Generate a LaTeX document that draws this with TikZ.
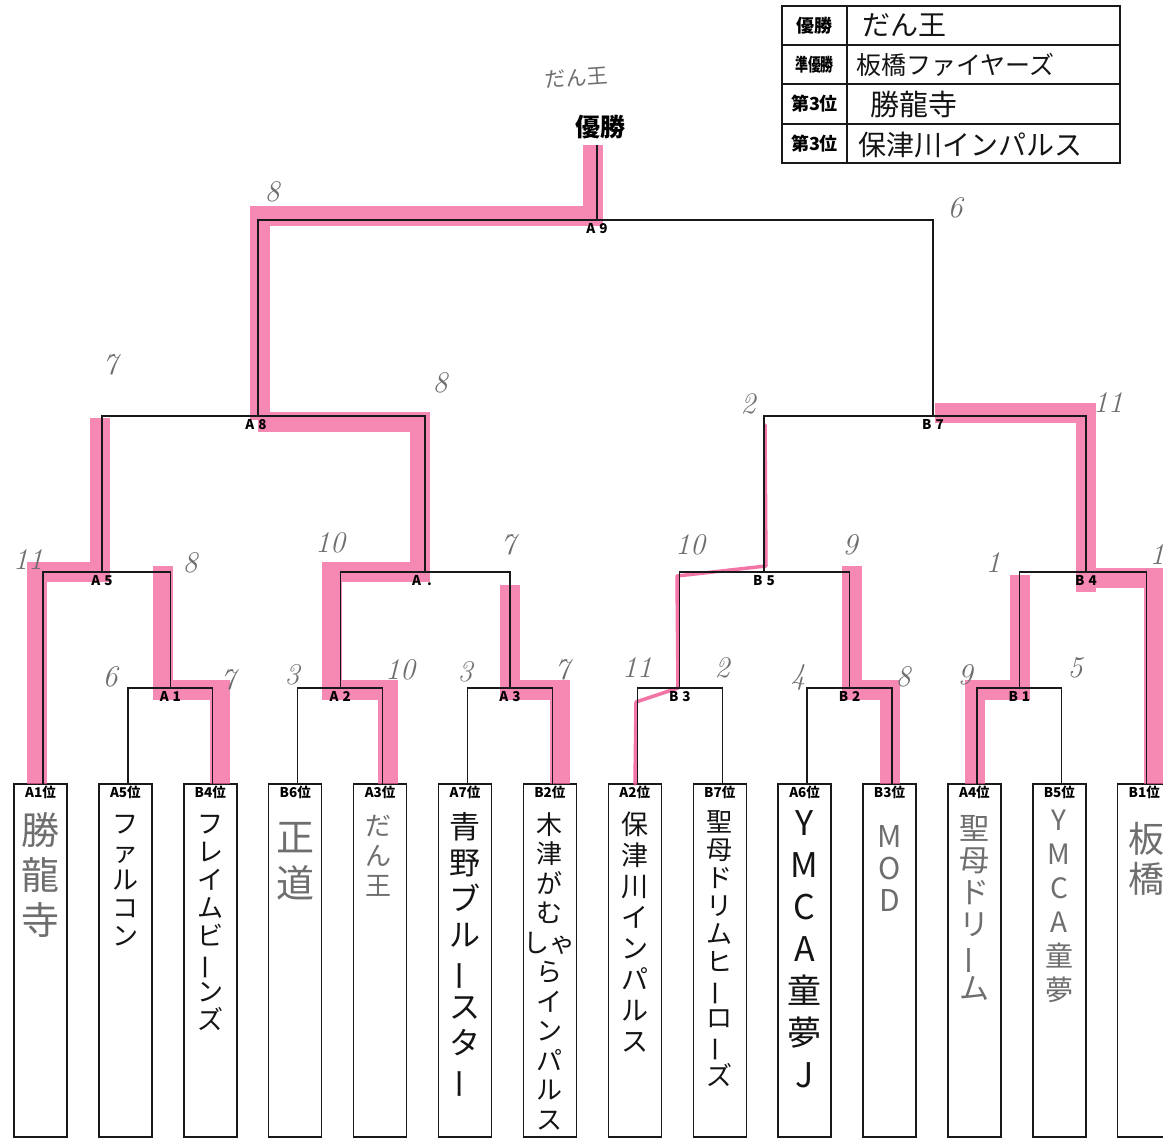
\documentclass[tikz,border=0pt]{standalone}
\usepackage{graphicx}
\usepackage{fontspec}
\newfontfamily\cjk{Noto Sans CJK JP}
\usetikzlibrary{calc}
\definecolor{hl}{RGB}{242,92,152}
\definecolor{pencil}{RGB}{110,110,110}
\definecolor{ink}{RGB}{20,20,20}
\definecolor{linec}{RGB}{25,25,25}
\newcommand\vbar{\rotatebox[origin=c]{90}{ー}}
\begin{document}
\begin{tikzpicture}[x=1pt,y=-1pt,
  slot/.style={draw=linec,line width=1.4,minimum width=53,minimum height=353,inner sep=0},
  slotlab/.style={font=\cjk\bfseries\fontsize{13.5}{13.5}\selectfont,inner sep=0,text=black},
  bracket/.style={draw=linec,line width=1.3},
  mlab/.style={anchor=north,font=\cjk\bfseries\fontsize{13.5}{13.5}\selectfont,inner sep=0,yshift=-3},
  hlband/.style={draw=hl,line width=20,opacity=0.72,line cap=butt,line join=miter},
  hlthin/.style={draw=hl,line width=3.5,opacity=0.85,line cap=round,line join=round},
  hw/.style={anchor=north,align=center,inner sep=0},
  num/.style={font=\itshape\fontsize{30}{30}\selectfont,text=pencil,inner sep=0},
  tbl/.style={draw=linec,line width=1.8},
  tlab/.style={font=\cjk\bfseries\fontsize{18}{18}\selectfont,inner sep=0},
  tval/.style={anchor=west,inner sep=0,text=ink}]
\useasboundingbox (0,0) rectangle (1163,1140);
\fill[white] (0,0) rectangle (1163,1140);

% team slots
\foreach \lab [count=\k from 0] in {A1,A5,B4,B6,A3,A7,B2,A2,B7,A6,B3,A4,B5,B1}{
  \node[slot] (b\lab) at ({40.5+84.9*\k},960.5) {};
  \coordinate (t\lab) at ({43+84.9*\k},784);
}

% match points
\coordinate (mA1) at (170.4,688);
\coordinate (mA2) at (340.2,688);
\coordinate (mA3) at (510,688);
\coordinate (mB3) at (679.8,688);
\coordinate (mB2) at (849.6,688);
\coordinate (mB1) at (1019.4,688);
\coordinate (mA5) at (102,572);
\coordinate (mA4) at (425,572);
\coordinate (mB5) at (764,572);
\coordinate (mB4) at (1086,572);
\coordinate (mA8) at (258,416);
\coordinate (mB7) at (933,416);
\coordinate (mA9) at (597,220);
\coordinate (win) at (597,145);

% highlighter bands
\path[hlband]
  (593,145) -- (593,216) -- (260,216) -- (260,420)
  (258,422) -- (420,422) -- (420,572) -- (332,572) -- (332,690) -- (388,690) -- (388,784)
  (100,418) -- (100,572) -- (37,572) -- (37,784)
  (163,566) -- (163,690) -- (220,690) -- (220,784)
  (510,585) -- (510,690) -- (560,690) -- (560,784)
  (852,566) -- (852,690) -- (890,690) -- (890,784)
  (1020,575) -- (1020,690) -- (975,690) -- (975,784)
  (935,413) -- (1086,413) -- (1086,592)
  (1080,578) -- (1154,578) -- (1154,784);
\path[hlthin]
  (635,784) -- (636,702) -- (678,688) -- (677,576) -- (766,566) -- (765,425);

% bracket lines
\draw[bracket] (tA5) |- (mA1) -| (tB4);
\draw[bracket] (tB6) |- (mA2) -| (tA3);
\draw[bracket] (tA7) |- (mA3) -| (tB2);
\draw[bracket] (tA2) |- (mB3) -| (tB7);
\draw[bracket] (tA6) |- (mB2) -| (tB3);
\draw[bracket] (tA4) |- (mB1) -| (tB5);
\draw[bracket] (tA1) |- (mA5) -| (mA1);
\draw[bracket] (mA2) |- (mA4) -| (mA3);
\draw[bracket] (mB3) |- (mB5) -| (mB2);
\draw[bracket] (mB1) |- (mB4) -| (tB1);
\draw[bracket] (mA5) |- (mA8) -| (mA4);
\draw[bracket] (mB5) |- (mB7) -| (mB4);
\draw[bracket] (mA8) |- (mA9) -| (mB7);
\draw[bracket] (mA9) -- (win);

% match labels
\node[mlab] (lA1) at (mA1) {A\hspace{4pt}1};
\node[mlab] (lA2) at (mA2) {A\hspace{4pt}2};
\node[mlab] (lA3) at (mA3) {A\hspace{4pt}3};
\node[mlab] (lB3) at (mB3) {B\hspace{4pt}3};
\node[mlab] (lB2) at (mB2) {B\hspace{4pt}2};
\node[mlab] (lB1) at (mB1) {B\hspace{4pt}1};
\node[mlab] (lA5) at (mA5) {A\hspace{4pt}5};
\node[mlab,xshift=-3] (lA4) at (mA4) {A\hspace{6pt}.};
\node[mlab] (lB5) at (mB5) {B\hspace{4pt}5};
\node[mlab] (lB4) at (mB4) {B\hspace{4pt}4};
\node[mlab,xshift=-2] (lA8) at (mA8) {A\hspace{4pt}8};
\node[mlab] (lB7) at (mB7) {B\hspace{4pt}7};
\node[mlab] (lA9) at (mA9) {A\hspace{4pt}9};

% slot labels
\foreach \lab in {A1,A5,B4,B6,A3,A7,B2,A2,B7,A6,B3,A4,B5,B1}{
  \node[slotlab] (s\lab) at ($(b\lab.north)+(0,9.5)$) {\lab 位};
}

% champion heading
\node[font=\cjk\bfseries\fontsize{25}{25}\selectfont,inner sep=0] (champ) at (600,127) {優勝};
\node[font=\cjk\fontsize{21}{21}\selectfont,text=pencil,inner sep=0,rotate=4] (champname) at (576,78) {だん王};

% team names (handwritten, vertical)
\node[hw,text=pencil,font=\cjk\fontsize{38}{45}\selectfont] (nA1) at (40.5,812) {勝\\龍\\寺};
\node[hw,text=ink,font=\cjk\fontsize{26}{28}\selectfont] (nA5) at (125.4,815) {フ\\ァ\\ル\\コ\\ン};
\node[hw,text=ink,font=\cjk\fontsize{26}{28}\selectfont] (nB4) at (210.3,815) {フ\\レ\\イ\\ム\\ビ\\\vbar\\ン\\ズ};
\node[hw,text=pencil,font=\cjk\fontsize{38}{46}\selectfont] (nB6) at (295.2,822) {正\\道};
\node[hw,text=pencil,font=\cjk\fontsize{26}{30}\selectfont] (nA3) at (378,815) {だ\\ん\\王};
\node[hw,text=ink,font=\cjk\fontsize{31}{36}\selectfont] (nA7) at (465,812) {青\\野\\ブ\\ル\\\vbar\\ス\\タ\\\vbar};
\node[hw,text=ink,font=\cjk\fontsize{26}{29.5}\selectfont] (nB2) at (549.9,812) {木\\津\\が\\む\\しゃ\\ら\\イ\\ン\\パ\\ル\\ス};
\node[hw,text=ink,font=\cjk\fontsize{27}{31}\selectfont] (nA2) at (634.8,812) {保\\津\\川\\イ\\ン\\パ\\ル\\ス};
\node[hw,text=ink,font=\cjk\fontsize{26}{28}\selectfont] (nB7) at (719.7,810) {聖\\母\\ド\\リ\\ム\\ヒ\\\vbar\\ロ\\\vbar\\ズ};
\node[hw,text=ink,font=\cjk\fontsize{34}{42}\selectfont] (nA6) at (804.6,810) {Y\\M\\C\\A\\童\\夢\\J};
\node[hw,text=pencil,font=\cjk\fontsize{30}{32}\selectfont] (nB3) at (889.5,825) {M\\O\\D};
\node[hw,text=pencil,font=\cjk\fontsize{30}{32}\selectfont] (nA4) at (974.4,815) {聖\\母\\ド\\リ\\\vbar\\ム};
\node[hw,text=pencil,font=\cjk\fontsize{28}{34}\selectfont] (nB5) at (1059.3,810) {Y\\M\\C\\A\\童\\夢};
\node[hw,text=pencil,font=\cjk\fontsize{36}{40}\selectfont] (nB1) at (1146,822) {板\\橋};

% scores
\node[num] (s1) at (272,192) {8};
\node[num] (s2) at (955,208) {6};
\node[num] (s3) at (110,365) {7};
\node[num] (s4) at (440,383) {8};
\node[num] (s5) at (748,404) {2};
\node[num] (s6) at (1108,403) {11};
\node[num] (s7) at (28,560) {11};
\node[num] (s8) at (190,563) {8};
\node[num] (s9) at (330,543) {10};
\node[num] (s10) at (508,545) {7};
\node[num] (s11) at (690,545) {10};
\node[num] (s12) at (850,545) {9};
\node[num] (s13) at (993,563) {1};
\node[num] (s14) at (1157,555) {1};
\node[num] (s15) at (110,677) {6};
\node[num] (s16) at (228,680) {7};
\node[num] (s17) at (292,675) {3};
\node[num] (s18) at (400,670) {10};
\node[num] (s19) at (465,672) {3};
\node[num] (s20) at (562,670) {7};
\node[num] (s21) at (637,668) {11};
\node[num] (s22) at (722,668) {2};
\node[num] (s23) at (798,677) {4};
\node[num] (s24) at (903,677) {8};
\node[num] (s25) at (965,675) {9};
\node[num] (s26) at (1075,668) {5};

% results table
\draw[tbl] (782,6) rectangle (1120,163);
\draw[tbl] (782,45) -- (1120,45);
\draw[tbl] (782,84) -- (1120,84);
\draw[tbl] (782,124) -- (1120,124);
\draw[tbl] (847,6) -- (847,163);
\node[tlab] (r1) at (814.5,26) {優勝};
\node[tlab] (r2) at (814.5,65) {\scalebox{0.72}[1]{準優勝}};
\node[tlab] (r3) at (814.5,104) {第3位};
\node[tlab] (r4) at (814.5,144) {第3位};
\node[tval,font=\cjk\fontsize{28}{28}\selectfont] (v1) at (862,25) {だん王};
\node[tval,font=\cjk\fontsize{25}{25}\selectfont] (v2) at (856,65) {板橋ファイヤーズ};
\node[tval,font=\cjk\fontsize{29}{29}\selectfont] (v3) at (870,104) {勝龍寺};
\node[tval,font=\cjk\fontsize{28}{28}\selectfont] (v4) at (858,145) {保津川インパルス};
\end{tikzpicture}
\end{document}
